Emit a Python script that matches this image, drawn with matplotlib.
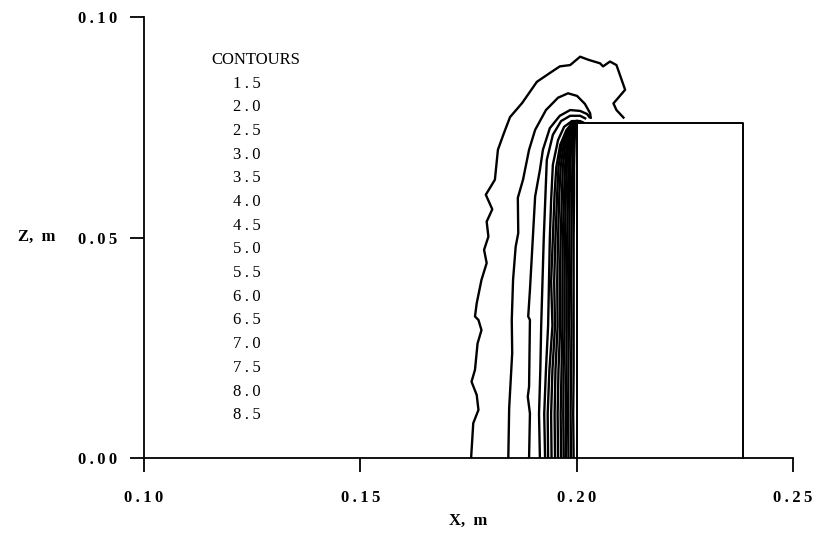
import matplotlib
matplotlib.use("Agg")
import matplotlib.pyplot as plt

# ---------------- data ----------------
contour_levels = ["1.5", "2.0", "2.5", "3.0", "3.5", "4.0", "4.5", "5.0",
                  "5.5", "6.0", "6.5", "7.0", "7.5", "8.0", "8.5"]

# contour 1.5 (outermost)
c15_x = [0.1756, 0.1761, 0.1773, 0.1769, 0.1757, 0.1765, 0.1771, 0.1780, 0.1773,
         0.1765, 0.1769, 0.1780, 0.1792, 0.1786, 0.1796, 0.1792, 0.1805, 0.1790,
         0.1811, 0.1818, 0.1832, 0.1846, 0.1874, 0.1908, 0.1938, 0.1961, 0.1985,
         0.2008, 0.2027, 0.2054, 0.2061, 0.2077, 0.2092, 0.2112, 0.2085, 0.2092,
         0.2110]
c15_z = [0.0000, 0.0079, 0.0109, 0.0143, 0.0173, 0.0200, 0.0260, 0.0290, 0.0313,
         0.0321, 0.0351, 0.0404, 0.0442, 0.0472, 0.0502, 0.0536, 0.0564, 0.0597,
         0.0631, 0.0699, 0.0737, 0.0773, 0.0805, 0.0853, 0.0873, 0.0888, 0.0891,
         0.0910, 0.0903, 0.0895, 0.0888, 0.0899, 0.0891, 0.0835, 0.0804, 0.0789,
         0.0770]

c20_x = [0.1842, 0.1844, 0.1851, 0.1850, 0.1853, 0.1859, 0.1865, 0.1864, 0.1876,
         0.1890, 0.1904, 0.1929, 0.1957, 0.1980, 0.2001, 0.2019, 0.2031, 0.2033]
c20_z = [0.0000, 0.0113, 0.0238, 0.0313, 0.0404, 0.0479, 0.0510, 0.0590, 0.0631,
         0.0699, 0.0744, 0.0789, 0.0817, 0.0827, 0.0821, 0.0803, 0.0782, 0.0769]

c25_x = [0.1890, 0.1892, 0.1887, 0.1890, 0.1892, 0.1888, 0.1892, 0.1904, 0.1915,
         0.1922, 0.1938, 0.1961, 0.1985, 0.2008, 0.2024, 0.2031]
c25_z = [0.0000, 0.0101, 0.0139, 0.0162, 0.0313, 0.0321, 0.0381, 0.0593, 0.0653,
         0.0699, 0.0748, 0.0776, 0.0789, 0.0787, 0.0780, 0.0771]

c30_x = [0.1915, 0.1913, 0.1916, 0.1918, 0.1921, 0.1924, 0.1931, 0.1945, 0.1964,
         0.1985, 0.2008, 0.2022]
c30_z = [0.0000, 0.0100, 0.0200, 0.0300, 0.0400, 0.0500, 0.0676, 0.0733, 0.0764,
         0.0776, 0.0776, 0.0769]

c35_x = [0.1927, 0.1925, 0.1929, 0.1934, 0.1936, 0.1938, 0.1941, 0.1945, 0.1957,
         0.1971, 0.1989, 0.2008, 0.2017]
c35_z = [0.0000, 0.0100, 0.0200, 0.0300, 0.0400, 0.0500, 0.0585, 0.0665, 0.0721,
         0.0751, 0.0764, 0.0764, 0.0760]

c40_x = [0.1934, 0.1933, 0.1937, 0.1944, 0.1941, 0.1945, 0.1949, 0.1953, 0.1962,
         0.1976, 0.1992, 0.2003]
c40_z = [0.0000, 0.0100, 0.0200, 0.0300, 0.0400, 0.0500, 0.0600, 0.0660, 0.0710,
         0.0743, 0.0763, 0.0765]

c45_x = [0.1942, 0.1941, 0.1944, 0.1950, 0.1948, 0.1951, 0.1955, 0.1958, 0.1965,
         0.1979, 0.1994, 0.2001]
c45_z = [0.0000, 0.0100, 0.0200, 0.0300, 0.0400, 0.0500, 0.0600, 0.0660, 0.0708,
         0.0742, 0.0763, 0.0764]

# inner contours share the same heights
inner_z = [0.0000, 0.0100, 0.0200, 0.0300, 0.0400, 0.0500, 0.0600, 0.0660, 0.0705,
           0.0740, 0.0765]
c50_x = [0.1950, 0.1949, 0.1951, 0.1956, 0.1955, 0.1957, 0.1960, 0.1963, 0.1969, 0.1979, 0.1990]
c55_x = [0.1957, 0.1956, 0.1958, 0.1962, 0.1961, 0.1963, 0.1966, 0.1968, 0.1973, 0.1982, 0.1991]
c60_x = [0.1964, 0.1963, 0.1965, 0.1967, 0.1967, 0.1968, 0.1971, 0.1973, 0.1977, 0.1985, 0.1992]
c65_x = [0.1970, 0.1969, 0.1970, 0.1972, 0.1972, 0.1973, 0.1975, 0.1977, 0.1980, 0.1987, 0.1993]
c70_x = [0.1975, 0.1975, 0.1976, 0.1977, 0.1977, 0.1978, 0.1980, 0.1981, 0.1984, 0.1989, 0.1994]
c75_x = [0.1981, 0.1980, 0.1981, 0.1982, 0.1982, 0.1983, 0.1984, 0.1985, 0.1987, 0.1991, 0.1995]
c80_x = [0.1987, 0.1986, 0.1987, 0.1988, 0.1987, 0.1988, 0.1989, 0.1990, 0.1991, 0.1993, 0.1996]
c85_x = [0.1993, 0.1992, 0.1993, 0.1993, 0.1993, 0.1993, 0.1994, 0.1994, 0.1995, 0.1996, 0.1997]

contour_x = [c15_x, c20_x, c25_x, c30_x, c35_x, c40_x, c45_x,
             c50_x, c55_x, c60_x, c65_x, c70_x, c75_x, c80_x, c85_x]
contour_z = [c15_z, c20_z, c25_z, c30_z, c35_z, c40_z, c45_z,
             inner_z, inner_z, inner_z, inner_z, inner_z, inner_z, inner_z, inner_z]

# obstacle (block)
block_x = [0.2000, 0.2000, 0.2384, 0.2384]
block_z = [0.0000, 0.0760, 0.0760, 0.0000]

x_ticks = [0.10, 0.15, 0.20, 0.25]
x_tick_labels = ["0.10", "0.15", "0.20", "0.25"]
z_ticks = [0.00, 0.05, 0.10]
z_tick_labels = ["0.00", "0.05", "0.10"]

# ---------------- drawing ----------------
FONT = ["Liberation Serif", "DejaVu Serif"]
plt.rcParams["font.family"] = FONT
THIN = "\u2009"

def spaced(s):
    return THIN.join(s)

W, H = 824, 539
fig = plt.figure(figsize=(W / 100, H / 100), dpi=100)
fig.patch.set_facecolor("white")

def fx(px):
    return px / W

def fy(py):
    return 1 - py / H

ax = fig.add_axes([fx(144), fy(458), (793 - 144) / W, (458 - 17) / H])
ax.set_xlim(0.10, 0.25)
ax.set_ylim(0.0, 0.10)

for s in ("top", "right"):
    ax.spines[s].set_visible(False)
for s in ("left", "bottom"):
    ax.spines[s].set_linewidth(1.3)
    ax.spines[s].set_color("black")

ax.set_xticks(x_ticks)
ax.set_xticklabels([spaced(t) for t in x_tick_labels], fontweight="bold")
ax.set_yticks(z_ticks)
ax.set_yticklabels([spaced(t) for t in z_tick_labels], fontweight="bold")
ax.tick_params(axis="both", direction="out", length=10, width=1.3,
               labelsize=12, colors="black")
ax.tick_params(axis="x", pad=13)
ax.tick_params(axis="y", pad=9)

for xs, zs in zip(contour_x, contour_z):
    ax.plot(xs, zs, color="black", lw=1.7, solid_joinstyle="round",
            solid_capstyle="butt", clip_on=False)

ax.plot(block_x, block_z, color="black", lw=1.4, clip_on=False)

# axis labels
fig.text(fx(18), fy(237), "Z,  m", ha="left", va="center", fontsize=12,
         fontweight="bold")
fig.text(fx(468), fy(521), "X,  m", ha="center", va="center", fontsize=12,
         fontweight="bold")

# contour key
fig.text(fx(256), fy(60), "CONTOURS", ha="center", va="center", fontsize=12)
for i, lab in enumerate(contour_levels):
    fig.text(fx(247), fy(83.5 + 23.7 * i), spaced(lab), ha="center",
             va="center", fontsize=12)

fig.savefig("out.png", dpi=100)
